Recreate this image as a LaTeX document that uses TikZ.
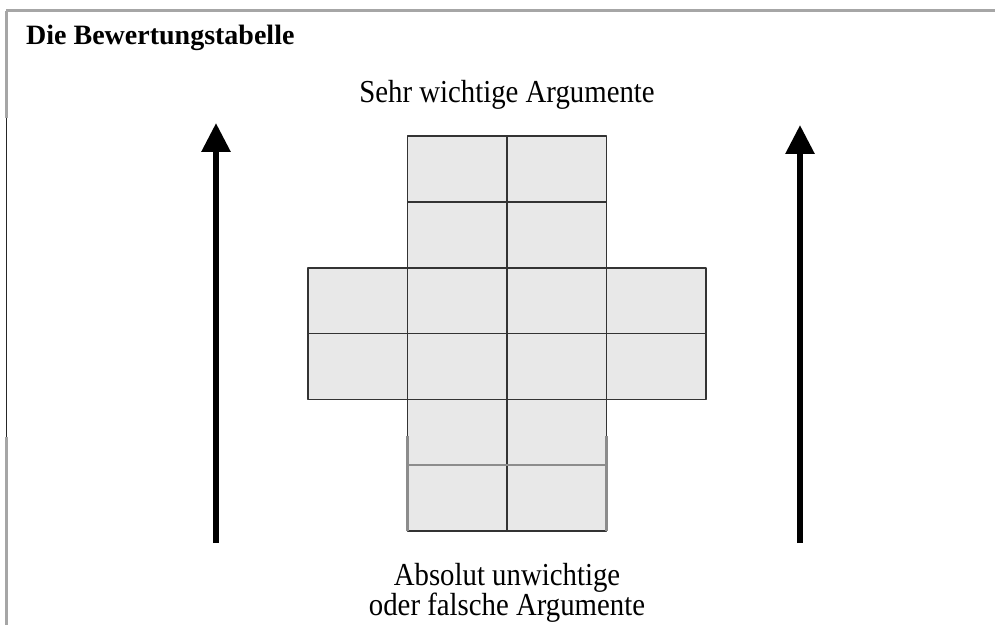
\documentclass[tikz,border=0pt]{standalone}
\usepackage{fontspec}
\setmainfont{Liberation Serif}
\newfontfamily\btNarrow[FakeStretch=0.9]{Liberation Serif}
\usetikzlibrary{arrows.meta}
\begin{document}
\begin{tikzpicture}[x=1pt, y=1pt]
% Bewertungstabelle, units are pixels of the 995x625 page
\def\cellw{99.5pt}
\def\cellh{65.8pt}
\providecommand{\btCellColor}{black!9}
\providecommand{\btLineColor}{black!80}
\providecommand{\btFrameColor}{black!35}
\providecommand{\btLineWidth}{1.6pt}
\tikzset{
  bigarrow/.style={line width=6pt, -{Triangle[length=29pt,width=28pt]}},
  labeltext/.style={inner sep=0pt, font=\btNarrow\fontsize{32pt}{29pt}\selectfont},
}
\useasboundingbox (0,0) rectangle (995,625);
% Frame (top and left only)
\draw[\btFrameColor, line width=3pt] (6,614) -- (995,614);
\draw[\btFrameColor, line width=3pt] (6,614) -- (6,507);
\draw[black!85, line width=1pt] (6,507) -- (6,188);
\draw[\btFrameColor, line width=3pt] (6,188) -- (6,0);
% Texts
\node[inner sep=0pt, font=\bfseries\fontsize{28pt}{28pt}\selectfont, anchor=base west] (title) at (26,580) {Die Bewertungstabelle};
\node[labeltext, anchor=base] (top) at (507,522) {Sehr wichtige Argumente};
\node[labeltext, anchor=north, align=center] (bottom) at (507,62) {Absolut unwichtige\\oder falsche Argumente};
% Arrows
\coordinate (lbot) at (216,82);
\coordinate (ltop) at (216,502);
\coordinate (rbot) at (800,82);
\coordinate (rtop) at (800,500);
\draw[bigarrow] (lbot) -- (ltop);
\draw[bigarrow] (rbot) -- (rtop);
% Table
\begin{scope}[shift={(308,94)}, x=\cellw, y=\cellh, line join=round]
  % Filled cells
  \begin{scope}[fill=\btCellColor]
    \fill (1,0) rectangle ++(1,1);
    \fill (2,0) rectangle ++(1,1);
    \fill (1,1) rectangle ++(1,1);
    \fill (2,1) rectangle ++(1,1);
    \fill (0,2) rectangle ++(1,1);
    \fill (1,2) rectangle ++(1,1);
    \fill (2,2) rectangle ++(1,1);
    \fill (3,2) rectangle ++(1,1);
    \fill (0,3) rectangle ++(1,1);
    \fill (1,3) rectangle ++(1,1);
    \fill (2,3) rectangle ++(1,1);
    \fill (3,3) rectangle ++(1,1);
    \fill (1,4) rectangle ++(1,1);
    \fill (2,4) rectangle ++(1,1);
    \fill (1,5) rectangle ++(1,1);
    \fill (2,5) rectangle ++(1,1);
  \end{scope}
  % Cell outlines
  \begin{scope}[draw=\btLineColor, line width=\btLineWidth]
    \draw (1,0) rectangle ++(1,1);
    \draw (2,0) rectangle ++(1,1);
    \draw (1,1) rectangle ++(1,1);
    \draw (2,1) rectangle ++(1,1);
    \draw (0,2) rectangle ++(1,1);
    \draw (1,2) rectangle ++(1,1);
    \draw (2,2) rectangle ++(1,1);
    \draw (3,2) rectangle ++(1,1);
    \draw (0,3) rectangle ++(1,1);
    \draw (1,3) rectangle ++(1,1);
    \draw (2,3) rectangle ++(1,1);
    \draw (3,3) rectangle ++(1,1);
    \draw (1,4) rectangle ++(1,1);
    \draw (2,4) rectangle ++(1,1);
    \draw (1,5) rectangle ++(1,1);
    \draw (2,5) rectangle ++(1,1);
  \end{scope}
  % Lighter lines of the lower part
  \begin{scope}[draw=black!45, line width=2.4pt]
    \draw (1,1) -- (3,1);
    \draw (1,0) -- (1,1.45);
    \draw (3,0) -- (3,1.45);
  \end{scope}
\end{scope}
\end{tikzpicture}
\end{document}
